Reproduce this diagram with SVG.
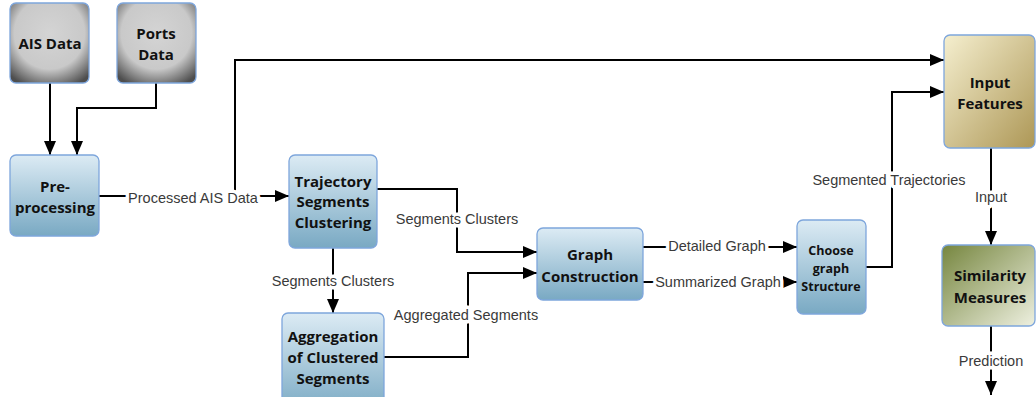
<svg xmlns="http://www.w3.org/2000/svg" width="1036" height="397" viewBox="0 0 1036 397">
<defs>
<radialGradient id="gGray" cx="50%" cy="38%" r="72%">
<stop offset="0" stop-color="#d4d4d4"/>
<stop offset="0.62" stop-color="#c9c9c9"/>
<stop offset="1" stop-color="#4e4e4e"/>
</radialGradient>
<linearGradient id="gBlue" x1="0" y1="0" x2="0" y2="1">
<stop offset="0" stop-color="#dcebf4"/>
<stop offset="1" stop-color="#79a9c3"/>
</linearGradient>
<linearGradient id="gTan" x1="0" y1="0" x2="1" y2="1">
<stop offset="0" stop-color="#f5efcf"/>
<stop offset="1" stop-color="#ad9756"/>
</linearGradient>
<linearGradient id="gOlive" x1="0" y1="0" x2="1" y2="1">
<stop offset="0" stop-color="#76863f"/>
<stop offset="1" stop-color="#eef0e0"/>
</linearGradient>
<marker id="arr" markerUnits="userSpaceOnUse" markerWidth="16" markerHeight="16" viewBox="0 0 16 16" refX="14" refY="8" orient="auto">
<path d="M0 2 L14 8 L0 14 Z" fill="#000"/>
</marker>
</defs>
<style>
.box{stroke:#7ea6dc;stroke-width:1.3}
.gray{fill:url(#gGray)}
.blue{fill:url(#gBlue)}
.tan{fill:url(#gTan)}
.olive{fill:url(#gOlive)}
.t{font-family:"Open Sans","Noto Sans",sans-serif;font-weight:bold;font-size:15px;fill:#111;text-anchor:middle;dominant-baseline:central}
.ts{font-size:12.5px}
.c path{fill:none;stroke:#000;stroke-width:2}
.lbl{font-family:"Liberation Sans",Arial,sans-serif;font-size:14.5px;fill:#3a3a3a;text-anchor:middle;dominant-baseline:central;stroke:#fff;stroke-width:7;paint-order:stroke;stroke-linejoin:round}
</style>
<g id="connectors" class="c">
<path d="M50 83 V155" marker-end="url(#arr)"/>
<path d="M156 83 V108 H77 V155" marker-end="url(#arr)"/>
<path d="M99 196 H289" marker-end="url(#arr)"/>
<path d="M235 196 V60 H944" marker-end="url(#arr)"/>
<path d="M377 189 H457 V252 H537" marker-end="url(#arr)"/>
<path d="M333 248 V313" marker-end="url(#arr)"/>
<path d="M384 357 H468 V273 H537" marker-end="url(#arr)"/>
<path d="M643 247 H797" marker-end="url(#arr)"/>
<path d="M643 282 H797" marker-end="url(#arr)"/>
<path d="M866 267 H892 V92 H944" marker-end="url(#arr)"/>
<path d="M991 148 V245" marker-end="url(#arr)"/>
<path d="M991 326 V395" marker-end="url(#arr)"/>
<text class="lbl" x="193" y="198">Processed AIS Data</text>
<text class="lbl" x="457" y="219">Segments Clusters</text>
<text class="lbl" x="333" y="281">Segments Clusters</text>
<text class="lbl" x="466" y="315">Aggregated Segments</text>
<text class="lbl" x="717" y="246">Detailed Graph</text>
<text class="lbl" x="718" y="282">Summarized Graph</text>
<text class="lbl" x="889" y="180">Segmented Trajectories</text>
<text class="lbl" x="991" y="197">Input</text>
<text class="lbl" x="991" y="361">Prediction</text>
</g>
<g id="ais">
<rect class="box gray" x="10" y="3" width="79" height="80" rx="6"/>
<text class="t" x="50" y="43">AIS Data</text>
</g>
<g id="ports">
<rect class="box gray" x="117" y="3" width="79" height="80" rx="6"/>
<text class="t" x="156" y="33">Ports</text>
<text class="t" x="156" y="54">Data</text>
</g>
<g id="preprocessing">
<rect class="box blue" x="10" y="155" width="89" height="81" rx="6"/>
<text class="t" x="55" y="186">Pre-</text>
<text class="t" x="55" y="207">processing</text>
</g>
<g id="trajectory">
<rect class="box blue" x="289" y="155" width="88" height="93" rx="6"/>
<text class="t" x="333" y="181">Trajectory</text>
<text class="t" x="333" y="201">Segments</text>
<text class="t" x="333" y="222">Clustering</text>
</g>
<g id="aggregation">
<rect class="box blue" x="282" y="313" width="102" height="100" rx="6"/>
<text class="t" x="333" y="336">Aggregation</text>
<text class="t" x="333" y="357">of Clustered</text>
<text class="t" x="333" y="378">Segments</text>
</g>
<g id="graph">
<rect class="box blue" x="537" y="228" width="106" height="72" rx="6"/>
<text class="t" x="590" y="254">Graph</text>
<text class="t" x="590" y="276">Construction</text>
</g>
<g id="choose">
<rect class="box blue" x="797" y="220" width="69" height="94" rx="6"/>
<text class="t ts" x="831" y="250">Choose</text>
<text class="t ts" x="831" y="268">graph</text>
<text class="t ts" x="831" y="286">Structure</text>
</g>
<g id="input">
<rect class="box tan" x="944" y="35" width="91" height="113" rx="6"/>
<text class="t" x="990" y="82">Input</text>
<text class="t" x="990" y="103">Features</text>
</g>
<g id="similarity">
<rect class="box olive" x="942" y="245" width="93" height="81" rx="6"/>
<text class="t" x="990" y="275">Similarity</text>
<text class="t" x="990" y="297">Measures</text>
</g>
</svg>
